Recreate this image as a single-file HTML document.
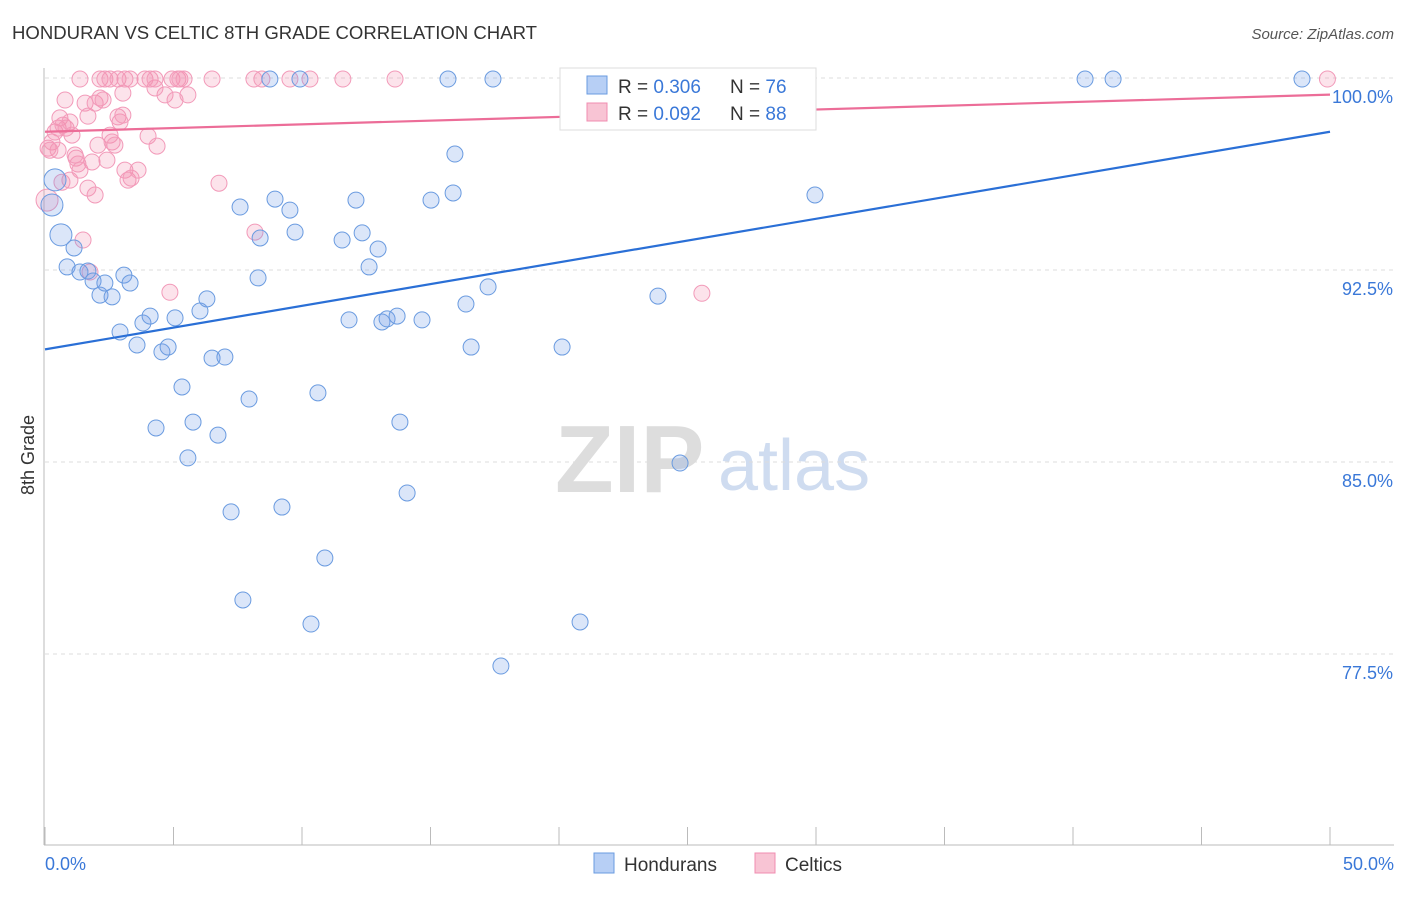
<!DOCTYPE html>
<html><head><meta charset="utf-8"><style>
body{margin:0;background:#fff;font-family:"Liberation Sans",sans-serif}
svg text{font-family:"Liberation Sans",sans-serif}
</style></head><body>
<svg id="chart" width="1406" height="892" viewBox="0 0 1406 892" xmlns="http://www.w3.org/2000/svg">
<text x="12" y="39" font-size="18" fill="#333" textLength="525" lengthAdjust="spacingAndGlyphs">HONDURAN VS CELTIC 8TH GRADE CORRELATION CHART</text>
<text x="1394" y="39" font-size="15" fill="#555" text-anchor="end" font-style="italic">Source: ZipAtlas.com</text>
<g>
<text x="555" y="492" font-size="96" fill="#ddd" font-family="Liberation Serif" font-weight="bold">ZIP</text>
<text x="718" y="490" font-size="72" fill="#cfdcf0">atlas</text></g>
<g id="grid"></g>
<g id="axes"></g>
<text transform="translate(34,455) rotate(-90)" font-size="18" fill="#333" text-anchor="middle">8th Grade</text>
<g id="marks"></g>
<g>
<rect x="560" y="68" width="256" height="62" fill="#fff" stroke="#ddd"/>
<rect x="587" y="76" width="20" height="18" fill="#b7cff5" stroke="#6a9be0"/>
<text x="618" y="93" font-size="19" fill="#333">R = <tspan fill="#3a78d8">0.306</tspan></text>
<text x="730" y="93" font-size="19" fill="#333">N = <tspan fill="#3a78d8">76</tspan></text>
<rect x="587" y="103" width="20" height="18" fill="#f8c4d4" stroke="#f08cb0"/>
<text x="618" y="120" font-size="19" fill="#333">R = <tspan fill="#3a78d8">0.092</tspan></text>
<text x="730" y="120" font-size="19" fill="#333">N = <tspan fill="#3a78d8">88</tspan></text>
</g>
<g>
<rect x="594" y="853" width="20" height="20" fill="#b7cff5" stroke="#6a9be0"/>
<text x="624" y="871" font-size="19" fill="#333">Hondurans</text>
<rect x="755" y="853" width="20" height="20" fill="#f8c4d4" stroke="#f08cb0"/>
<text x="785" y="871" font-size="19" fill="#333">Celtics</text>
</g>
</svg>
<script>
const blueX=[0.27,0.39,0.62,0.86,1.13,1.36,1.67,1.87,2.14,2.33,2.61,3.07,3.31,2.92,3.58,3.81,4.09,4.32,4.55,4.79,5.06,5.33,5.56,5.76,6.03,6.30,6.50,6.73,7.00,7.24,7.59,7.70,7.94,8.29,8.37,8.75,8.95,9.22,9.53,9.73,9.92,10.35,10.62,10.89,11.56,11.83,12.10,12.34,12.61,12.96,13.11,13.31,13.70,13.81,14.09,14.67,15.02,15.68,15.88,15.95,16.38,16.58,17.24,17.43,17.74,20.12,20.82,23.85,24.71,25.02,27.32,28.17,29.96,40.47,41.56,48.91];
const blueY=[95.04,96.02,93.87,92.62,93.36,92.42,92.46,92.07,91.52,91.99,91.45,92.30,91.99,90.08,89.57,90.43,90.70,86.33,89.30,89.49,90.63,87.93,85.16,86.56,90.90,91.37,89.06,86.05,89.10,83.05,94.96,79.61,87.46,92.19,93.75,99.96,95.27,83.24,94.84,93.98,99.96,78.67,87.70,81.25,93.67,90.55,95.23,93.95,92.62,93.32,90.47,90.59,90.70,86.56,83.79,90.55,95.23,99.96,95.51,97.03,91.17,89.49,91.84,99.96,77.03,89.49,78.75,91.48,84.96,99.96,99.96,99.96,95.43,99.96,99.96,99.96];
const pinkX=[0.12,0.27,0.39,0.51,0.08,0.58,0.70,0.82,0.97,1.05,1.21,1.28,1.36,1.48,1.56,1.67,1.75,1.83,1.95,2.06,2.14,2.26,2.41,2.53,2.61,2.72,2.84,2.92,3.03,3.11,3.23,3.35,3.62,4.01,4.36,4.67,4.86,5.56,6.77,8.17,25.56,0.97,0.66,1.17,0.51,0.19,1.67,1.95,0.78,4.28,5.06,3.03,1.36,2.14,2.33,2.53,2.84,3.11,3.31,3.89,4.09,4.28,4.94,5.17,5.25,5.41,6.50,8.13,8.44,9.53,10.31,11.59,13.62,49.9];
const pinkY=[97.26,97.50,97.89,98.04,95.23,98.44,98.16,98.04,98.28,97.77,96.87,96.64,96.40,93.67,99.02,98.51,92.42,96.72,99.02,97.38,99.22,99.14,96.79,97.77,97.50,97.38,98.48,98.28,99.41,96.40,96.01,96.09,96.40,97.73,97.34,99.34,91.63,99.34,95.89,93.98,91.59,96.01,95.93,96.99,97.18,97.18,95.70,95.43,99.14,99.61,99.14,98.55,99.96,99.96,99.96,99.96,99.96,99.96,99.96,99.96,99.96,99.96,99.96,99.96,99.96,99.96,99.96,99.96,99.96,99.96,99.96,99.96,99.96,99.96];
const yTicks=[100,92.5,85,77.5];
const yTickLabels=["100.0%","92.5%","85.0%","77.5%"];
const blueTrend=[89.4,97.9];
const pinkTrend=[97.9,99.35];
const NS="http://www.w3.org/2000/svg";
const sx=v=>45+v/50*1285;
const sy=v=>78+(100-v)/7.5*192;
function mk(tag,attrs,parent){const e=document.createElementNS(NS,tag);for(const k in attrs)e.setAttribute(k,attrs[k]);parent.appendChild(e);return e;}
const grid=document.getElementById('grid'),axes=document.getElementById('axes'),marks=document.getElementById('marks');
yTicks.forEach((t,i)=>{
 const l=mk('line',{x1:45,x2:1394,y1:sy(t),y2:sy(t),stroke:'#ddd','stroke-dasharray':'4,4'},grid);
 
 
 const tx=mk('text',{x:1393,y:sy(t)+25,'font-size':18,fill:'#3a78d8','text-anchor':'end'},axes);
 tx.textContent=yTickLabels[i];
 
 
});
mk('line',{x1:44,x2:44,y1:68,y2:845,stroke:'#bbb'},axes);
mk('line',{x1:44,x2:1394,y1:845,y2:845,stroke:'#bbb'},axes);
for(let i=0;i<=10;i++){const x=sx(i*5);mk('line',{x1:x,x2:x,y1:827,y2:845,stroke:'#bbb'},axes);}
const xl=mk('text',{x:45,y:870,'font-size':18,fill:'#3a78d8'},axes);xl.textContent='0.0%';


const xr=mk('text',{x:1394,y:870,'font-size':18,fill:'#3a78d8','text-anchor':'end'},axes);xr.textContent='50.0%';


function pts(X,Y,fill,stroke,name){
 X.forEach((x,i)=>{const big=(i<3&&name==='honduran-point')||(name==='celtic-point'&&i===4);
  const c=mk('circle',{cx:sx(x),cy:sy(Y[i]),r:big?11:8,fill:fill,stroke:stroke,'stroke-width':1},marks);
  
  });
}
pts(pinkX,pinkY,'rgba(244,143,177,0.25)','#f29ab9','celtic-point');
pts(blueX,blueY,'rgba(110,155,230,0.25)','#6a9be0','honduran-point');
const bl=mk('line',{x1:sx(0),y1:sy(blueTrend[0]),x2:sx(50),y2:sy(blueTrend[1]),stroke:'#2a6fd6','stroke-width':2.2},marks);


const pl=mk('line',{x1:sx(0),y1:sy(pinkTrend[0]),x2:sx(50),y2:sy(pinkTrend[1]),stroke:'#ec6d98','stroke-width':2.2},marks);


</script>
</body></html>
